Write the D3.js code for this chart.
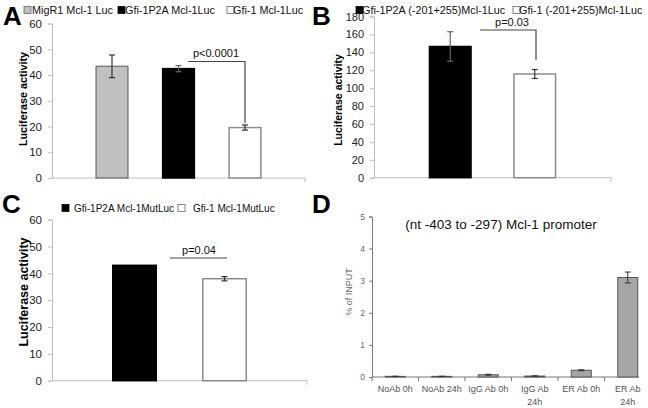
<!DOCTYPE html>
<html><head><meta charset="utf-8">
<script src="https://cdn.jsdelivr.net/npm/d3@7"></script>
<style>body{margin:0;background:#fff}svg{display:block;font-family:"Liberation Sans",Arial,sans-serif}</style>
</head><body><svg id="c" width="648" height="408"></svg>
<script>
// Panel A
const seriesA = ["MigR1 Mcl-1 Luc","Gfi-1P2A Mcl-1Luc","Gfi-1 Mcl-1Luc"];
const valuesA = [43.4, 42.5, 19.6];
const errorsA = [4.4, 1.2, 1.0];
const ticksA = [0,10,20,30,40,50,60];
// Panel B
const seriesB = ["Gfi-1P2A (-201+255)Mcl-1Luc","Gfi-1 (-201+255)Mcl-1Luc"];
const valuesB = [146.5, 115.8];
const errorsB = [16.5, 5];
const ticksB = [0,20,40,60,80,100,120,140,160,180];
// Panel C
const seriesC = ["Gfi-1P2A Mcl-1MutLuc","Gfi-1 Mcl-1MutLuc"];
const valuesC = [43, 38];
const errorsC = [0, 0.8];
const ticksC = [0,10,20,30,40,50,60];
// Panel D
const catsD = [["NoAb 0h"],["NoAb 24h"],["IgG Ab 0h"],["IgG Ab","24h"],["ER Ab 0h"],["ER Ab","24h"]];
const valuesD = [0.02, 0.02, 0.07, 0.03, 0.21, 3.1];
const errorsD = [0.005, 0.005, 0.015, 0.005, 0.015, 0.17];
const ticksD = [0,1,2,3,4,5];

const svg = d3.select("#c");
const styles = {
  gray: {fill:"#c0c0c0", stroke:"#7f7f7f"},
  black: {fill:"#000", stroke:"#000"},
  white: {fill:"#fff", stroke:"#8c8c8c"}
};

function letter(t,x,y){
  svg.append("text").attr("x",x).attr("y",y).attr("font-size",26).attr("font-weight","bold").text(t);
}

function excelPanel(o){
  const g = svg.append("g");
  const y = d3.scaleLinear().domain([0,o.max]).range([o.y0,o.yTop]);
  const x = d3.scaleBand().domain(o.series).range(o.xr).paddingInner(o.pad).paddingOuter(o.pad/2);
  // y axis
  const ya = g.append("g").attr("transform",`translate(${o.ax0},0)`)
    .call(d3.axisLeft(y).tickValues(o.ticks).tickSize(4).tickPadding(6));
  ya.select(".domain").attr("stroke","#bfbfbf");
  ya.selectAll(".tick line").attr("stroke","#bfbfbf");
  ya.selectAll(".tick text").attr("font-size",o.tfs).attr("fill","#222").attr("font-family","Liberation Sans, Arial");
  // x axis
  g.append("line").attr("x1",o.ax0).attr("x2",o.ax1).attr("y1",o.y0).attr("y2",o.y0).attr("stroke","#bfbfbf");
  g.append("line").attr("x1",o.ax1).attr("x2",o.ax1).attr("y1",o.y0).attr("y2",o.y0+4).attr("stroke","#bfbfbf");
  // bars
  o.series.forEach((s,i)=>{
    const st = styles[o.colors[i]];
    g.append("rect").attr("x",x(s)+0.75).attr("width",x.bandwidth()-1.5)
      .attr("y",y(o.values[i])).attr("height",o.y0-y(o.values[i]))
      .attr("fill",st.fill).attr("stroke",st.stroke).attr("stroke-width",1.5);
    if(o.errors[i]>0){
      const cx = x(s)+x.bandwidth()/2;
      const t = y(o.values[i]+o.errors[i]), b = y(o.values[i]-o.errors[i]);
      const ec = o.colors[i]==="black" ? "#666" : "#333";
      g.append("line").attr("x1",cx).attr("x2",cx).attr("y1",t).attr("y2",b).attr("stroke",ec).attr("stroke-width",1.2);
      g.append("line").attr("x1",cx-3).attr("x2",cx+3).attr("y1",t).attr("y2",t).attr("stroke",ec).attr("stroke-width",1.2);
      g.append("line").attr("x1",cx-3).attr("x2",cx+3).attr("y1",b).attr("y2",b).attr("stroke",ec).attr("stroke-width",1.2);
    }
  });
  // y title
  g.append("text").attr("transform",`translate(${o.titleX},${o.titleY}) rotate(-90)`)
    .attr("text-anchor","middle").attr("font-size",o.titleFs).attr("font-weight","bold").text("Luciferase activity");
  // legend
  o.legend.forEach((L,i)=>{
    const st = styles[o.colors[i]];
    g.append("rect").attr("x",L[0]).attr("y",o.legY-7.5).attr("width",7).attr("height",7)
      .attr("fill",st.fill).attr("stroke", o.colors[i]==="black"?"#000":"#666").attr("stroke-width",0.8);
    g.append("text").attr("x",L[1]).attr("y",o.legY).attr("font-size",o.legFs).attr("fill","#111").text(o.series[i]);
  });
  // significance
  const sg = o.sig;
  g.append("path").attr("d", sg.path).attr("fill","none").attr("stroke","#444").attr("stroke-width",1.2);
  g.append("text").attr("x",sg.tx).attr("y",sg.ty).attr("text-anchor","middle").attr("font-size",11).attr("fill","#111").text(sg.text);
  return {x,y};
}

// A
letter("A",3,25);
excelPanel({series:seriesA, values:valuesA, errors:errorsA, ticks:ticksA, max:60,
  y0:178, yTop:23.6, ax0:52, ax1:305, xr:[78.75,278.25], pad:0.5,
  colors:["gray","black","white"], tfs:11.5, titleX:27, titleY:99, titleFs:10.8,
  legY:14, legFs:10.8, legend:[[24,32],[118,125],[227,233]],
  sig:{path:"M188,61.5H245V123", tx:216, ty:57, text:"p<0.0001"}});

// B
letter("B",312,25);
excelPanel({series:seriesB, values:valuesB, errors:errorsB, ticks:ticksB, max:180,
  y0:177.7, yTop:16.5, ax0:374, ax1:611, xr:[408,577], pad:0.49,
  colors:["black","white"], tfs:11, titleX:342, titleY:100, titleFs:10.5,
  legY:14, legFs:10.8, legend:[[356,362],[513,519]],
  sig:{path:"M480,30H536V60", tx:512, ty:26, text:"p=0.03"}});

// C
letter("C",2,213);
excelPanel({series:seriesC, values:valuesC, errors:errorsC, ticks:ticksC, max:60,
  y0:380.7, yTop:219.7, ax0:52, ax1:307, xr:[89.5,269.5], pad:0.5,
  colors:["black","white"], tfs:11.5, titleX:28, titleY:292, titleFs:12.5,
  legY:212, legFs:10, legend:[[62,74],[178,193]],
  sig:{path:"M170,258H227", tx:199, ty:254, text:"p=0.04"}});

// D
letter("D",312,213);
(function(){
  const g = svg.append("g");
  const y = d3.scaleLinear().domain([0,5]).range([377,216.5]);
  const x = d3.scaleBand().domain(d3.range(catsD.length)).range([372,651]).paddingInner(0.57).paddingOuter(0.285);
  const ya = g.append("g").attr("transform","translate(372,0)")
    .call(d3.axisLeft(y).tickValues(ticksD).tickFormat(d3.format("d")).tickSize(3).tickPadding(4));
  ya.select(".domain").attr("stroke","#777");
  ya.selectAll(".tick line").attr("stroke","#777");
  ya.selectAll(".tick text").attr("font-size",8.5).attr("fill","#666").attr("font-family","Liberation Sans, Arial");
  g.append("line").attr("x1",372).attr("x2",639).attr("y1",377).attr("y2",377).attr("stroke","#777");
  const step = x.step();
  d3.range(catsD.length+1).forEach(i=>{
    const xx = 372 + i*step;
    if(xx<=640) g.append("line").attr("x1",xx).attr("x2",xx).attr("y1",377).attr("y2",381).attr("stroke","#777");
  });
  catsD.forEach((c,i)=>{
    const cx = x(i)+x.bandwidth()/2;
    g.append("rect").attr("x",x(i)).attr("width",x.bandwidth()).attr("y",y(valuesD[i]))
      .attr("height",377-y(valuesD[i])).attr("fill","#a6a6a6").attr("stroke","#555").attr("stroke-width",1);
    const t=y(valuesD[i]+errorsD[i]), b=y(valuesD[i]-errorsD[i]);
    g.append("line").attr("x1",cx).attr("x2",cx).attr("y1",t).attr("y2",b).attr("stroke","#333");
    g.append("line").attr("x1",cx-3).attr("x2",cx+3).attr("y1",t).attr("y2",t).attr("stroke","#333");
    g.append("line").attr("x1",cx-3).attr("x2",cx+3).attr("y1",b).attr("y2",b).attr("stroke","#333");
    const tx = g.append("text").attr("x",cx).attr("y",392).attr("text-anchor","middle")
      .attr("font-size",9).attr("fill","#555");
    c.forEach((line,j)=>tx.append("tspan").attr("x",cx).attr("dy",j?13:0).text(line));
  });
  g.append("text").attr("transform","translate(352,292) rotate(-90)").attr("text-anchor","middle")
    .attr("font-size",9).attr("fill","#666").text("% of INPUT");
  g.append("text").attr("x",501).attr("y",229).attr("text-anchor","middle").attr("font-size",13.5)
    .attr("fill","#111").text("(nt -403 to -297) Mcl-1 promoter");
})();
</script></body></html>
